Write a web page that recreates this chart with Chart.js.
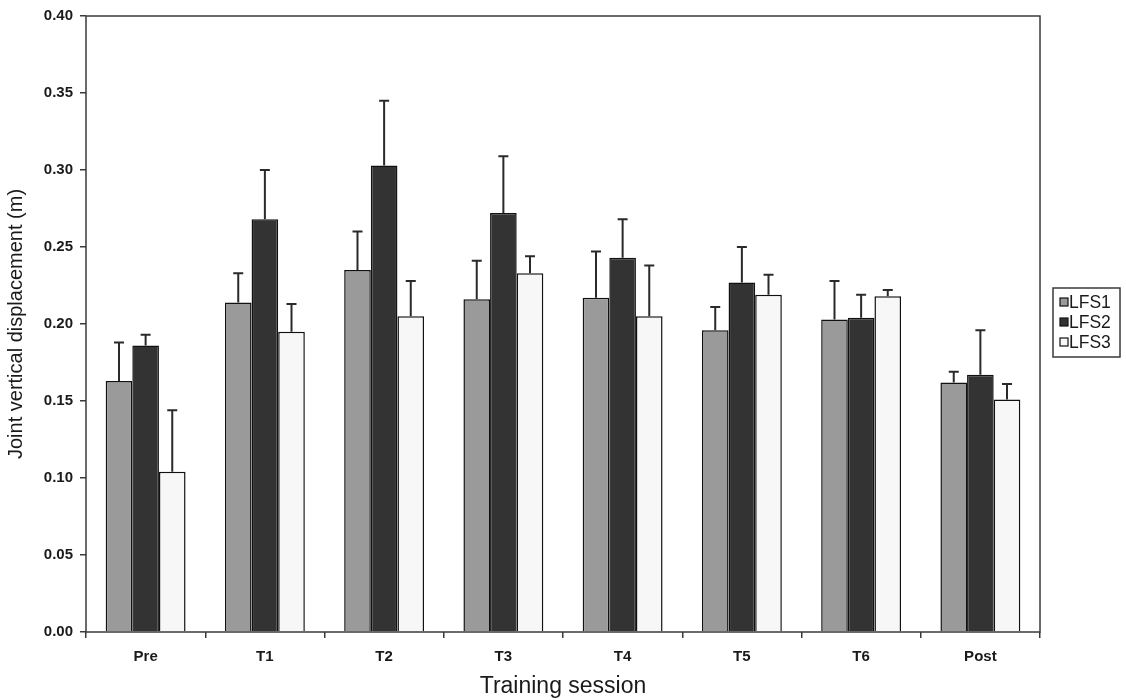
<!DOCTYPE html>
<html>
<head>
<meta charset="utf-8">
<script src="https://cdn.jsdelivr.net/npm/chart.js@4.4.1/dist/chart.umd.min.js"></script>
<style>
  html, body { margin: 0; padding: 0; background: #ffffff; }
  #wrap { width: 1126px; height: 700px; position: relative; }
</style>
</head>
<body>
<div id="wrap"><canvas id="chart" width="1126" height="700"></canvas></div>
<script>
// Training sessions on the x axis
const sessions = ['Pre', 'T1', 'T2', 'T3', 'T4', 'T5', 'T6', 'Post'];

// Mean joint vertical displacement (m) per stage
const lfs1 = [0.163, 0.214, 0.235, 0.216, 0.217, 0.196, 0.203, 0.162];
const lfs2 = [0.186, 0.268, 0.303, 0.272, 0.243, 0.227, 0.204, 0.167];
const lfs3 = [0.104, 0.195, 0.205, 0.233, 0.205, 0.219, 0.218, 0.151];

// Standard deviations (upper error bars)
const lfs1Sd = [0.025, 0.019, 0.025, 0.025, 0.030, 0.015, 0.025, 0.007];
const lfs2Sd = [0.007, 0.032, 0.042, 0.037, 0.025, 0.023, 0.015, 0.029];
const lfs3Sd = [0.040, 0.018, 0.023, 0.011, 0.033, 0.013, 0.004, 0.010];

// Y axis range and step
const yMin = 0, yMax = 0.40, yStep = 0.05;

const FONT = "'Liberation Sans', Arial, sans-serif";
const INK = '#1a1a1a';

// Upward error bars with a short cap, drawn from each bar's top
const errorBars = {
  id: 'errorBars',
  afterDatasetsDraw(chart) {
    const ctx = chart.ctx;
    const y = chart.scales.y;
    ctx.save();
    ctx.strokeStyle = '#2a2a2a';
    ctx.lineWidth = 2;
    chart.data.datasets.forEach((ds, di) => {
      const meta = chart.getDatasetMeta(di);
      meta.data.forEach((bar, i) => {
        const top = y.getPixelForValue(ds.data[i] + ds.sd[i]);
        ctx.beginPath();
        ctx.moveTo(bar.x, bar.y);
        ctx.lineTo(bar.x, top);
        ctx.moveTo(bar.x - 5, top);
        ctx.lineTo(bar.x + 5, top);
        ctx.stroke();
      });
    });
    ctx.restore();
  }
};

// Box around the plotting area
const frame = {
  id: 'frame',
  afterDraw(chart) {
    const { ctx, chartArea: a } = chart;
    ctx.save();
    ctx.strokeStyle = '#3a3a3a';
    ctx.lineWidth = 1.5;
    ctx.strokeRect(a.left, a.top, a.right - a.left, a.bottom - a.top);
    ctx.restore();
  }
};

// Boxed legend at the right of the plot
const boxLegend = {
  id: 'boxLegend',
  afterDraw(chart) {
    const ctx = chart.ctx;
    const x0 = 1053, y0 = 288, w = 67, h = 69;
    ctx.save();
    ctx.fillStyle = '#ffffff';
    ctx.fillRect(x0, y0, w, h);
    ctx.strokeStyle = '#3a3a3a';
    ctx.lineWidth = 1.5;
    ctx.strokeRect(x0, y0, w, h);
    ctx.font = '17.5px ' + FONT;
    ctx.textBaseline = 'middle';
    chart.data.datasets.forEach((ds, i) => {
      const cy = y0 + 14 + i * 20;
      ctx.fillStyle = ds.backgroundColor;
      ctx.fillRect(x0 + 7, cy - 4, 8, 8);
      ctx.strokeStyle = '#111';
      ctx.lineWidth = 1.2;
      ctx.strokeRect(x0 + 7, cy - 4, 8, 8);
      ctx.fillStyle = INK;
      ctx.fillText(ds.label, x0 + 16, cy + 1);
    });
    ctx.restore();
  }
};

const barStyle = { borderColor: '#111111', borderWidth: 1.5, categoryPercentage: 0.67, barPercentage: 1.0 };

new Chart(document.getElementById('chart'), {
  type: 'bar',
  data: {
    labels: sessions,
    datasets: [
      Object.assign({ label: 'LFS1', data: lfs1, sd: lfs1Sd, backgroundColor: '#9a9a9a' }, barStyle),
      Object.assign({ label: 'LFS2', data: lfs2, sd: lfs2Sd, backgroundColor: '#333333' }, barStyle),
      Object.assign({ label: 'LFS3', data: lfs3, sd: lfs3Sd, backgroundColor: '#f7f7f7' }, barStyle)
    ]
  },
  options: {
    responsive: false,
    animation: false,
    layout: { padding: { top: 16, right: 86, left: 0, bottom: 0 } },
    plugins: { legend: { display: false }, tooltip: { enabled: false } },
    scales: {
      x: {
        grid: { display: true, drawOnChartArea: false, drawTicks: true, tickLength: 6, color: '#3a3a3a', lineWidth: 1.5, offset: true },
        border: { display: false },
        ticks: { color: INK, font: { family: FONT, size: 15, weight: 'bold' }, padding: 10, maxRotation: 0 },
        title: { display: true, text: 'Training session', color: INK, font: { family: FONT, size: 23 }, padding: { top: 0, bottom: 0 } },
        afterFit(scale) { scale.height = 68; }
      },
      y: {
        min: yMin, max: yMax,
        grid: { display: true, drawOnChartArea: false, drawTicks: true, tickLength: 6, color: '#3a3a3a', lineWidth: 1.5 },
        border: { display: false },
        ticks: { stepSize: yStep, color: INK, font: { family: FONT, size: 15, weight: 'bold' }, padding: 7,
                 callback: v => Number(v).toFixed(2) },
        title: { display: true, text: 'Joint vertical displacement (m)', color: INK, font: { family: FONT, size: 20 }, padding: { top: 4, bottom: 0 } },
        afterFit(scale) { scale.width = 86; }
      }
    }
  },
  plugins: [errorBars, frame, boxLegend]
});
</script>
</body>
</html>
